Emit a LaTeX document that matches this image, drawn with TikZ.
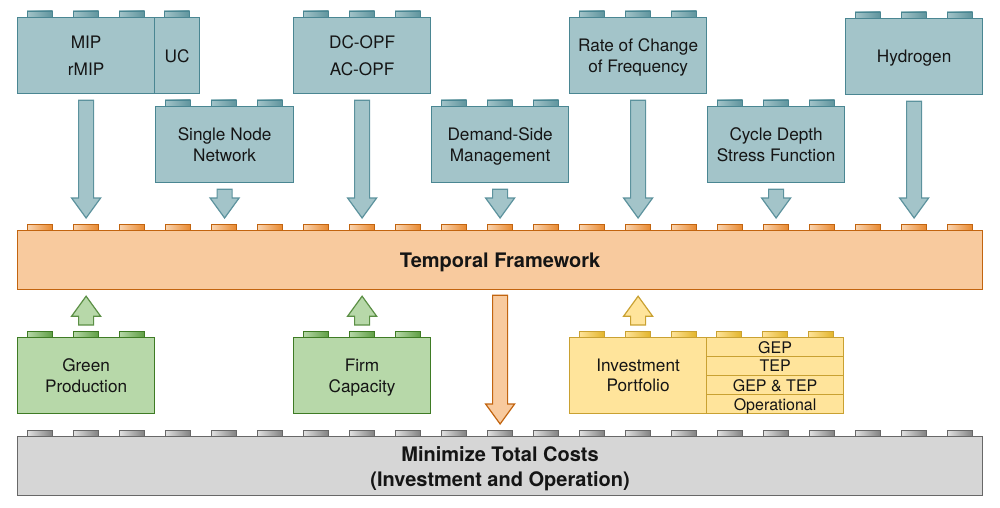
\documentclass[tikz,border=0pt]{standalone}
\usepackage{fontspec}
\setmainfont{TeX Gyre Heros}
\usetikzlibrary{calc}
\definecolor{tealF}{HTML}{A3C4C9}
\definecolor{tealD}{HTML}{4A8692}
\definecolor{tealS}{HTML}{5E949D}
\definecolor{orF}{HTML}{F8CA9E}
\definecolor{orD}{HTML}{C2640F}
\definecolor{orS}{HTML}{E8892F}
\definecolor{grF}{HTML}{B7D8A9}
\definecolor{grD}{HTML}{3E7B24}
\definecolor{grS}{HTML}{5E9E43}
\definecolor{yeF}{HTML}{FFE49B}
\definecolor{yeD}{HTML}{C9A132}
\definecolor{yeS}{HTML}{E2B42A}
\definecolor{gyF}{HTML}{D6D6D6}
\definecolor{gyD}{HTML}{686868}
\definecolor{gyS}{HTML}{808080}
\definecolor{txt}{HTML}{151515}
\newcommand\studrow[4]{%
  \foreach \k in {1,...,#3}{\draw[#4] ($(#1.north west)+({#2+46*(\k-1)},0)$) rectangle ++(25.5,-6);}}
\newcommand\blockarrow[3]{%
  \coordinate (ba-s) at (#2);
  \coordinate (ba-e) at (#3);
  \coordinate (ba-h) at ($(ba-e)!20pt!(ba-s)$);
  \draw[#1] ($(ba-s)!7.5pt!90:(ba-e)$) -- ($(ba-h)!7.5pt!-90:(ba-s)$) -- ($(ba-h)!14.5pt!-90:(ba-s)$) -- (ba-e)
    -- ($(ba-h)!14.5pt!90:(ba-s)$) -- ($(ba-h)!7.5pt!90:(ba-s)$) -- ($(ba-s)!7.5pt!-90:(ba-e)$) -- cycle;}
\begin{document}
\begin{tikzpicture}[x=1pt,y=-1pt,
  block/.style={draw, line width=1.2pt, inner sep=0pt, anchor=north west, align=center, text=txt,
    minimum width=137pt, minimum height=76pt, text depth=0pt, font=\fontsize{17.2}{21}\selectfont},
  wide/.style={block, minimum width=965pt, minimum height=59pt, font=\fontsize{20}{25}\selectfont\bfseries},
  cell/.style={block, minimum width=137pt, minimum height=19pt, font=\fontsize{16}{19}\selectfont},
  tealblk/.style={fill=tealF, draw=tealD},
  orblk/.style={fill=orF, draw=orD},
  grblk/.style={fill=grF, draw=grD},
  yeblk/.style={fill=yeF, draw=yeD},
  gyblk/.style={fill=gyF, draw=gyD},
  tealstud/.style={draw=tealD, line width=0.9pt, left color=tealF, right color=tealS},
  orstud/.style={draw=orD, line width=0.9pt, left color=orF!80!white, right color=orS},
  grstud/.style={draw=grD, line width=0.9pt, left color=grF, right color=grS},
  yestud/.style={draw=yeD, line width=0.9pt, left color=yeF, right color=yeS},
  gystud/.style={draw=gyD, line width=0.9pt, left color=gyF!70!white, right color=gyS},
  tealarr/.style={fill=tealF, draw=tealD!90!white, line width=1.2pt},
  orarr/.style={fill=orF, draw=orD, line width=1.2pt},
  grarr/.style={fill=grF, draw=grD!85!white, line width=1.2pt},
  yearr/.style={fill=yeF, draw=yeD, line width=1.2pt}]
\useasboundingbox (0,0) rectangle (1000,508);

% top row
\node[block,tealblk] (mip) at (17,17) {MIP\\[6pt]rMIP};
\node[block,tealblk,minimum width=45pt] (uc) at (154,17) {UC};
\node[block,tealblk] (opf) at (293,17) {DC-OPF\\[6pt]AC-OPF};
\node[block,tealblk] (rocof) at (569,17) {Rate of Change\\of Frequency};
\node[block,tealblk] (hyd) at (845,18) {Hydrogen};
% second row
\node[block,tealblk,minimum width=138pt] (snn) at (155,106) {Single Node\\Network};
\node[block,tealblk] (dsm) at (431,106) {Demand-Side\\Management};
\node[block,tealblk] (cds) at (707,106) {Cycle Depth\\Stress Function};
% temporal
\node[wide,orblk] (temp) at (17,230) {Temporal Framework};
% bottom row
\node[block,grblk] (green) at (17,337) {Green\\Production};
\node[block,grblk] (firm) at (293,337) {Firm\\Capacity};
\node[block,yeblk,font=\fontsize{17.2}{20}\selectfont] (inv) at (569,337) {Investment\\Portfolio};
\node[cell,yeblk] (gep) at (706,337) {GEP};
\node[cell,yeblk] (tep) at (706,356) {TEP};
\node[cell,yeblk] (geptep) at (706,375) {GEP \& TEP};
\node[cell,yeblk] (oper) at (706,394) {Operational};
% total
\node[wide,gyblk] (total) at (17,436) {Minimize Total Costs\\(Investment and Operation)};

% studs
\studrow{mip}{10}{3}{tealstud}
\studrow{uc}{10}{1}{tealstud}
\studrow{opf}{10}{3}{tealstud}
\studrow{rocof}{10}{3}{tealstud}
\studrow{hyd}{10}{3}{tealstud}
\studrow{snn}{10}{3}{tealstud}
\studrow{dsm}{10}{3}{tealstud}
\studrow{cds}{10}{3}{tealstud}
\studrow{temp}{10}{21}{orstud}
\studrow{green}{10}{3}{grstud}
\studrow{firm}{10}{3}{grstud}
\studrow{inv}{10}{3}{yestud}
\studrow{gep}{10}{3}{yestud}
\studrow{total}{10}{21}{gystud}

% arrows down into temporal
\foreach \n in {mip,opf,rocof,hyd,snn,dsm,cds}{
  \blockarrow{tealarr}{$(\n.south)+(0,6)$}{$(\n.south |- temp.north)+(0,-12)$}
}
% arrows up from bottom blocks
\blockarrow{grarr}{$(green.north)+(0,-12)$}{$(green.north |- temp.south)+(0,6)$}
\blockarrow{grarr}{$(firm.north)+(0,-12)$}{$(firm.north |- temp.south)+(0,6)$}
\blockarrow{yearr}{$(inv.north)+(0,-12)$}{$(inv.north |- temp.south)+(0,6)$}
% temporal to total
\blockarrow{orarr}{$(temp.south)+(0,5)$}{$(temp.south |- total.north)+(0,-12)$}
\end{tikzpicture}
\end{document}
